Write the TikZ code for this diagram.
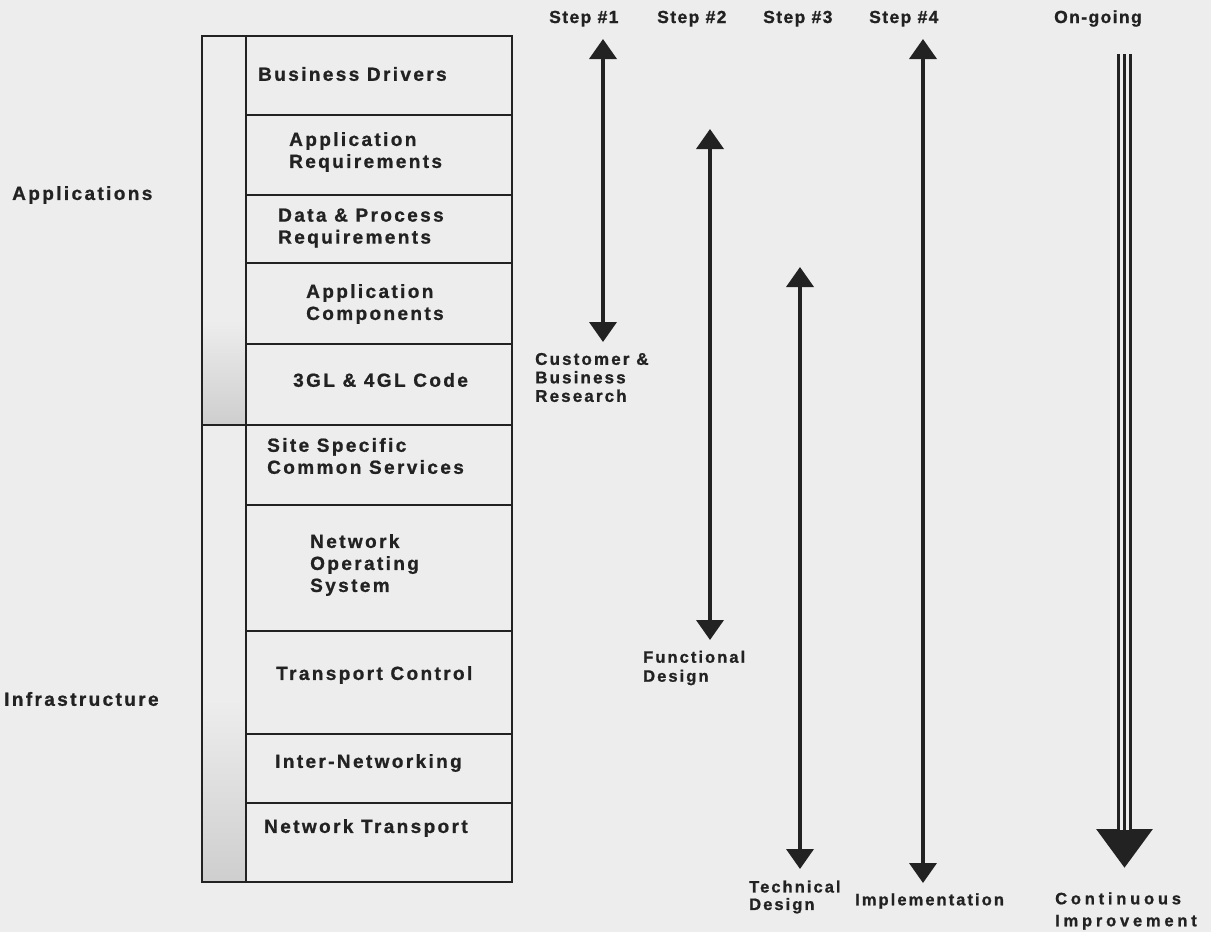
\documentclass[tikz,border=0pt]{standalone}
\usepackage{fontspec}
\setmainfont{Liberation Sans}
\newfontfamily\lblA{Liberation Sans}[LetterSpace=12.5, BoldFeatures={FakeBold=1.0}]
\newfontfamily\lblS{Liberation Sans}[LetterSpace=8, BoldFeatures={FakeBold=1.0}]
\newfontfamily\lblC{Liberation Sans}[LetterSpace=23, BoldFeatures={FakeBold=1.0}]
\usetikzlibrary{arrows.meta}
\definecolor{bg}{HTML}{EDEDED}
\definecolor{ink}{HTML}{222222}
\begin{document}
\begin{tikzpicture}[x=1pt,y=-1pt,
  rowlbl/.style={anchor=west, inner sep=0pt, align=left, text=ink,
    font=\lblA\bfseries\fontsize{19}{22}\selectfont},
  steplbl/.style={anchor=base west, inner sep=0pt, text=ink,
    font=\lblS\bfseries\fontsize{17.5}{20}\selectfont},
  endlbl/.style={anchor=west, inner sep=0pt, align=left, text=ink,
    font=\lblA\bfseries\fontsize{16.5}{18.5}\selectfont},
  stackline/.style={draw=ink, line width=1.8pt},
  steparrow/.style={draw=ink, line width=3.8pt, >={Triangle[length=20pt,width=27pt]}, <->},
]
\useasboundingbox (0,0) rectangle (1211,932);
\fill[bg] (0,0) rectangle (1211,932);

% shading in the narrow column
\shade[top color=bg, bottom color=ink!22] (203,320) rectangle (245,424);
\shade[top color=bg, bottom color=ink!22] (203,700) rectangle (245,881);

% stack of layers
\draw[stackline] (202,36) rectangle (512,882);
\draw[stackline] (246,36) -- (246,882);
\foreach \yy in {115,195,263,344,505,631,734,803}
  \draw[stackline] (246,\yy) -- (512,\yy);
\draw[stackline] (202,425) -- (512,425);

% layer labels
\node[rowlbl] (bd)  at (258,74)  {Business Drivers};
\node[rowlbl] (ar)  at (289,152) {Application\\Requirements};
\node[rowlbl] (dp)  at (278,228) {Data \& Process\\Requirements};
\node[rowlbl] (ac)  at (306,304) {Application\\Components};
\node[rowlbl] (gl)  at (293,380) {3GL \& 4GL Code};
\node[rowlbl] (ss)  at (267,456) {Site Specific\\Common Services};
\node[rowlbl] (nos) at (310,565) {Network\\Operating\\System};
\node[rowlbl] (tc)  at (276,675) {Transport Control};
\node[rowlbl] (inw) at (275,763) {Inter-Networking};
\node[rowlbl] (nt)  at (264,828) {Network Transport};

\node[rowlbl] (apps)  at (12,195) {Applications};
\node[rowlbl] (infra) at (4,699)  {Infrastructure};

% step headings
\node[steplbl] (h1) at (549,23)  {Step \#1};
\node[steplbl] (h2) at (657,23)  {Step \#2};
\node[steplbl] (h3) at (763,23)  {Step \#3};
\node[steplbl] (h4) at (869,23)  {Step \#4};
\node[steplbl] (h5) at (1054,23) {On-going};

% arrow end points
\coordinate (s1a) at (603,39);  \coordinate (s1b) at (603,342);
\coordinate (s2a) at (710,129); \coordinate (s2b) at (710,640);
\coordinate (s3a) at (800,267); \coordinate (s3b) at (800,869);
\coordinate (s4a) at (923,39);  \coordinate (s4b) at (923,883);
\coordinate (oga) at (1124.5,54); \coordinate (ogm) at (1124.5,830);
\coordinate (ogb) at (1124.5,868);

\draw[steparrow] (s1a) -- (s1b);
\draw[steparrow] (s2a) -- (s2b);
\draw[steparrow] (s3a) -- (s3b);
\draw[steparrow] (s4a) -- (s4b);

% on-going triple line arrow
\draw[draw=ink, line width=15pt, -{Triangle[length=39pt,width=54pt]}] (oga) -- (ogb);
\draw[draw=bg, line width=9pt] (oga) -- (ogm);
\draw[draw=ink, line width=3pt] (oga) -- (ogm);

% end labels
\node[endlbl, font=\lblA\bfseries\fontsize{17}{18.5}\selectfont] (cbr) at (535,377.5) {Customer \&\\Business\\Research};
\node[endlbl, font=\lblA\bfseries\fontsize{16.5}{19}\selectfont] (fd) at (643,668) {Functional\\Design};
\node[endlbl, font=\lblA\bfseries\fontsize{16.5}{17.5}\selectfont] (td) at (749,897) {Technical\\Design};
\node[endlbl] (imp) at (855,901) {Implementation};
\node[endlbl, font=\lblC\bfseries\fontsize{16.5}{22}\selectfont] (ci) at (1055,911) {Continuous\\Improvement};
\end{tikzpicture}
\end{document}
